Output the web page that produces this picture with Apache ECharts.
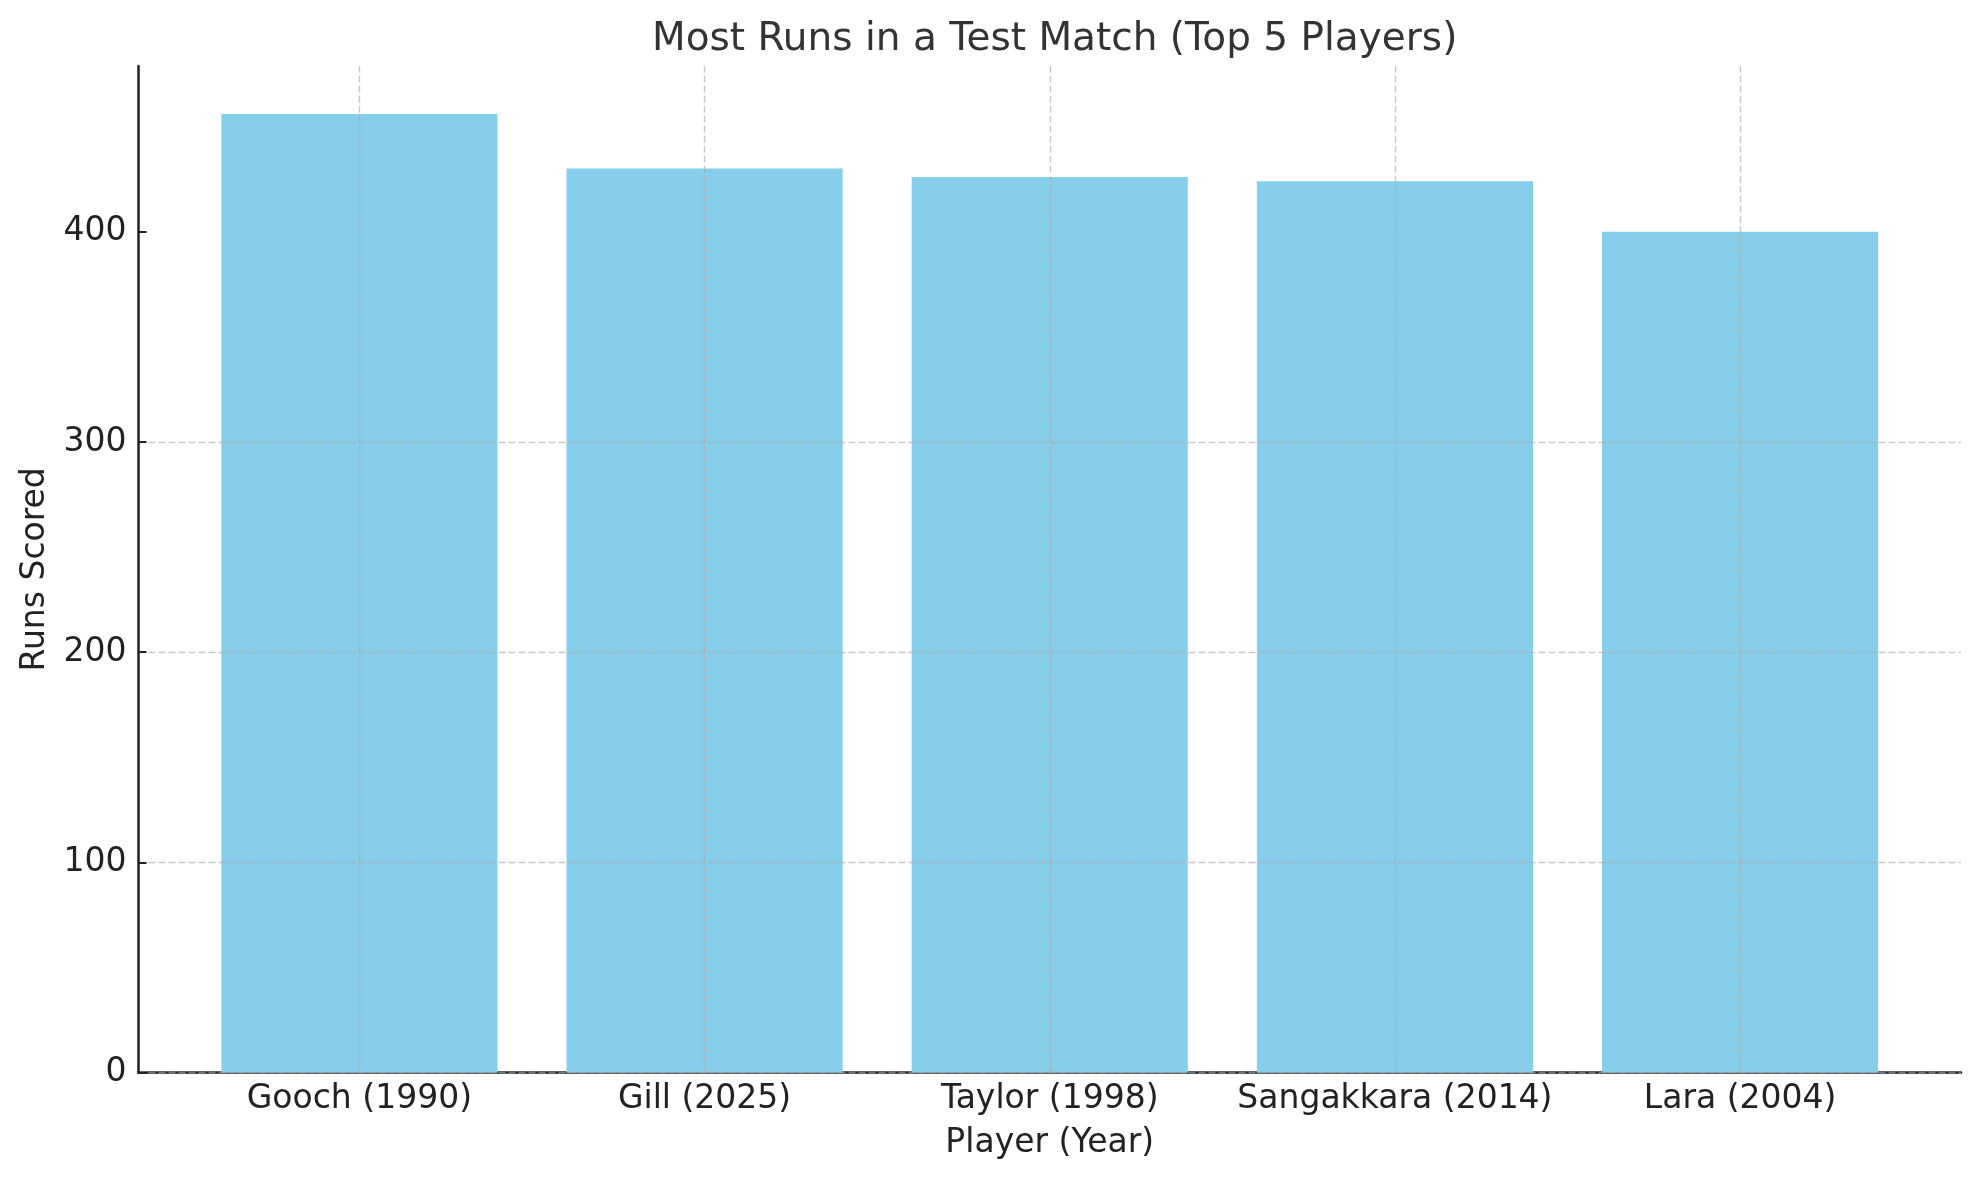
<!DOCTYPE html>
<html>
<head>
<meta charset="utf-8">
<script src="https://cdn.jsdelivr.net/npm/echarts@6/dist/echarts.min.js"></script>
<style>
html,body{margin:0;padding:0;background:#fff;}
#chart{width:1979px;height:1180px;}
</style>
</head>
<body>
<div id="chart"></div>
<script>
const categories = ['Gooch (1990)', 'Gill (2025)', 'Taylor (1998)', 'Sangakkara (2014)', 'Lara (2004)'];
const runs = [456, 430, 426, 424, 400];
const yTicks = [0, 100, 200, 300, 400];

const FONT = 'DejaVu Sans';
const TXT = '#222';
const gridColor = 'rgba(170,170,170,0.65)';

const chart = echarts.init(document.getElementById('chart'), null, {renderer: 'canvas'});
const yMax = 478.8;

chart.setOption({
  animation: false,
  backgroundColor: '#fff',
  title: {
    text: 'Most Runs in a Test Match (Top 5 Players)',
    left: 1049.7, textAlign: 'center', top: 15,
    textStyle: {fontFamily: FONT, fontSize: 39, fontWeight: 'normal', color: '#333'}
  },
  grid: [
    {left: 138.5, right: 18, top: 66, bottom: 107.3, containLabel: false},
    {left: 186.8, right: 66.3, top: 66, bottom: 107.3, containLabel: false}
  ],
  xAxis: [
    {
      type: 'value', gridIndex: 0, min: 0, max: 1,
      axisLine: {show: true, lineStyle: {color: TXT, width: 2.5}},
      axisTick: {show: false}, axisLabel: {show: false}, splitLine: {show: false},
      name: 'Player (Year)', nameLocation: 'middle', nameGap: 54,
      nameTextStyle: {fontFamily: FONT, fontSize: 33, color: TXT}
    },
    {
      type: 'category', gridIndex: 1, data: categories,
      axisLine: {show: false},
      axisTick: {show: true, inside: true, alignWithLabel: true, length: 9, lineStyle: {color: TXT, width: 2}},
      axisLabel: {fontFamily: FONT, fontSize: 33, color: TXT, margin: 10, interval: 0},
      splitLine: {show: false}
    }
  ],
  yAxis: [
    {
      type: 'value', gridIndex: 0, min: 0, max: yMax, interval: 100, z: 5,
      axisLine: {show: true, lineStyle: {color: TXT, width: 2.5}},
      axisTick: {show: true, inside: true, length: 8, lineStyle: {color: TXT, width: 2}, customValues: yTicks},
      axisLabel: {fontFamily: FONT, fontSize: 33, color: TXT, margin: 12, customValues: yTicks,
        formatter: v => (yTicks.indexOf(v) >= 0 ? String(v) : '')},
      splitLine: {show: true, showMaxLine: false, lineStyle: {color: gridColor, width: 1.4, type: [7, 3]}},
      name: 'Runs Scored', nameLocation: 'middle', nameGap: 87, nameRotate: 90,
      nameTextStyle: {fontFamily: FONT, fontSize: 33, color: TXT}
    },
    {
      type: 'value', gridIndex: 1, min: 0, max: yMax, show: false
    }
  ],
  series: [{
    type: 'bar', xAxisIndex: 1, yAxisIndex: 1,
    data: runs,
    barCategoryGap: '20%',
    itemStyle: {color: '#87CEEB'},
    markLine: {
      silent: true, symbol: 'none', z: 6, animation: false,
      label: {show: false},
      lineStyle: {color: gridColor, width: 1.4, type: [7, 3]},
      data: categories.map((c, i) => ({xAxis: i}))
    }
  }]
});
</script>
</body>
</html>
